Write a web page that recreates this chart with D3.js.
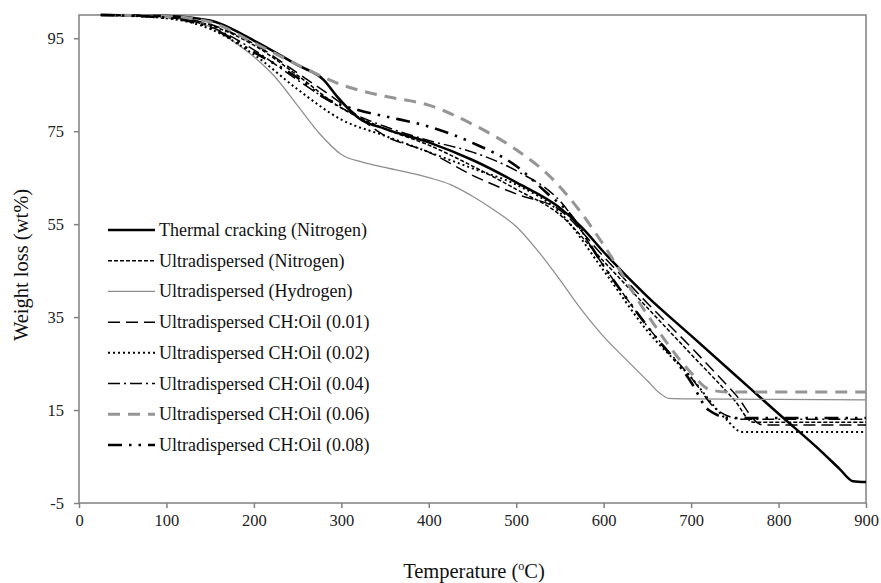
<!DOCTYPE html>
<html>
<head>
<meta charset="utf-8">
<script src="https://cdn.jsdelivr.net/npm/d3@7"></script>
<style>
  body { margin: 0; background: #fff; }
  svg { font-family: "Liberation Serif", "Times New Roman", serif; }
  .axis path, .axis line { stroke: #808080; stroke-width: 1.5; }
  .axis text { fill: #222; font-size: 16.5px; font-family: "Liberation Serif", serif; }
  .line { fill: none; }
</style>
</head>
<body>
<div id="chart"></div>
<script>
// values: [temperature (oC), weight (wt%)]
const thermalN2 = [[25,100],[100,99.8],[150,98.8],[200,94.5],[250,89.2],[280,86],[295,82.5],[320,77.8],[350,75.5],[400,72.6],[450,68.8],[500,64],[550,58.5],[575,54.3],[600,49],[650,39.4],[700,31],[750,22.6],[800,14.2],[850,5.9],[870,2.3],[885,-0.3],[900,-0.5]];
const ultraN2 = [[25,100],[100,99.5],[150,97.8],[200,93.5],[250,87],[300,80],[350,75.5],[400,72],[450,67.5],[500,62.5],[550,57],[600,47],[650,37],[700,27],[750,17],[771,12.4],[800,12.4],[900,12.4]];
const ultraH2 = [[25,100],[100,99.6],[150,97.5],[175,94.5],[200,91],[225,86.5],[250,80.5],[275,74.5],[300,70],[325,68.3],[350,67.2],[400,65],[425,63.5],[450,61],[475,58],[500,54.5],[525,49.2],[550,43],[575,36.5],[600,30.8],[625,26],[650,21.3],[665,18.5],[675,17.5],[700,17.4],[800,17.3],[900,17.2]];
const ch001 = [[25,100],[100,99.6],[150,98],[200,93.8],[250,87.5],[300,81],[350,74],[400,70.5],[450,65.5],[500,61.5],[550,58],[600,48],[650,38],[700,28.5],[750,18.5],[782,11.8],[900,11.8]];
const ch002 = [[25,100],[100,99.3],[150,97],[200,91.5],[250,84],[300,77.5],[350,74],[400,70.5],[450,67],[500,63.5],[550,57.5],[600,45],[650,32],[700,22],[740,13],[758,10.3],[900,10.3]];
const ch004 = [[25,100],[100,99.5],[150,97.5],[200,92.5],[250,86],[300,80],[350,76],[400,73],[450,70.5],[500,66.5],[550,60],[600,46],[650,33],[700,22],[730,15],[760,13],[900,13]];
const ch006 = [[25,100],[100,99.7],[150,98.5],[200,94],[250,89.3],[300,85],[350,82.5],[400,80.6],[450,76.5],[500,71],[540,65],[570,58.5],[600,50.5],[650,35.5],[700,23],[720,19.5],[740,18.9],[900,18.9]];
const ch008 = [[25,100],[100,99.4],[150,97.3],[200,92],[250,86.5],[280,82.3],[320,79.5],[350,78.2],[400,76],[450,72.5],[500,67.5],[535,61.7],[560,57.5],[600,46],[650,33],[700,21],[720,15],[745,13.3],[900,13.3]];

const seriesNames = ["Thermal cracking (Nitrogen)", "Ultradispersed (Nitrogen)", "Ultradispersed (Hydrogen)",
  "Ultradispersed CH:Oil (0.01)", "Ultradispersed CH:Oil (0.02)", "Ultradispersed CH:Oil (0.04)",
  "Ultradispersed CH:Oil (0.06)", "Ultradispersed CH:Oil (0.08)"];
const seriesData = [thermalN2, ultraN2, ultraH2, ch001, ch002, ch004, ch006, ch008];

const xTicks = [0, 100, 200, 300, 400, 500, 600, 700, 800, 900];
const yTicks = [-5, 15, 35, 55, 75, 95];

const styles = [
  {stroke: "#000", width: 2.5, dash: null},
  {stroke: "#000", width: 1.5, dash: "4,2"},
  {stroke: "#8c8c8c", width: 1.2, dash: null},
  {stroke: "#000", width: 1.5, dash: "12,6"},
  {stroke: "#000", width: 2, dash: "2,3"},
  {stroke: "#000", width: 1.5, dash: "12,4,2,4"},
  {stroke: "#959595", width: 3, dash: "12,8"},
  {stroke: "#000", width: 2.6, dash: "14,7,2.5,7,2.5,7"}
];

const width = 881;
const height = 583;
const margin = ({top: 15, right: 15, bottom: 80, left: 79});

const x = d3.scaleLinear().domain([0, 900]).range([margin.left, width - margin.right]);
const y = d3.scaleLinear().domain([-5, 100]).range([height - margin.bottom, margin.top]);

const svg = d3.select("#chart").append("svg")
  .attr("width", width)
  .attr("height", height);

// frame
svg.append("rect")
  .attr("x", x(0)).attr("y", y(100))
  .attr("width", x(900) - x(0)).attr("height", y(-5) - y(100))
  .attr("fill", "none").attr("stroke", "#808080").attr("stroke-width", 1.5);

svg.append("g")
  .attr("class", "axis")
  .attr("transform", `translate(0,${y(-5)})`)
  .call(d3.axisBottom(x).tickValues(xTicks).tickSize(5).tickPadding(6).tickFormat(d => String(d)))
  .call(g => g.select(".domain").remove());

svg.append("g")
  .attr("class", "axis")
  .attr("transform", `translate(${x(0)},0)`)
  .call(d3.axisLeft(y).tickValues(yTicks).tickSize(5).tickPadding(10).tickFormat(d => String(d)))
  .call(g => g.select(".domain").remove());

const line = d3.line()
  .x(d => x(d[0]))
  .y(d => y(d[1]))
  .curve(d3.curveMonotoneX);

seriesData.forEach((d, i) => {
  svg.append("path")
    .attr("class", "line")
    .attr("d", line(d))
    .attr("stroke", styles[i].stroke)
    .attr("stroke-width", styles[i].width)
    .attr("stroke-dasharray", styles[i].dash);
});

// legend
const legendY = d3.scaleLinear().domain([0, 7]).range([230, 445]);
seriesNames.forEach((name, i) => {
  const yy = legendY(i);
  svg.append("line")
    .attr("x1", 108).attr("x2", 155)
    .attr("y1", yy).attr("y2", yy)
    .attr("stroke", styles[i].stroke)
    .attr("stroke-width", styles[i].width)
    .attr("stroke-dasharray", styles[i].dash);
  svg.append("text")
    .attr("x", 159).attr("y", yy + 6)
    .attr("font-size", "18px")
    .attr("fill", "#111")
    .text(name);
});

// axis titles
svg.append("text")
  .attr("transform", `translate(28,${(y(-5) + y(100)) / 2 + 6}) rotate(-90)`)
  .attr("text-anchor", "middle")
  .attr("font-size", "20.5px")
  .attr("fill", "#111")
  .text("Weight loss (wt%)");

const xTitle = svg.append("text")
  .attr("x", 474).attr("y", 578)
  .attr("text-anchor", "middle")
  .attr("font-size", "20.5px")
  .attr("fill", "#111");
xTitle.append("tspan").text("Temperature (");
xTitle.append("tspan").attr("font-size", "12px").attr("dy", -8).text("o");
xTitle.append("tspan").attr("dy", 8).text("C)");
</script>
</body>
</html>
